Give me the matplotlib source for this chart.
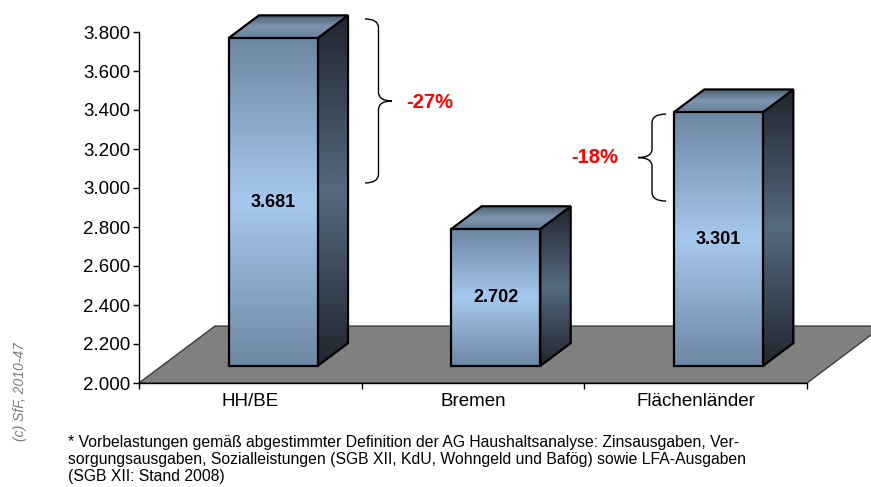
import numpy as np
import matplotlib.pyplot as plt
from matplotlib.patches import Polygon, PathPatch
from matplotlib.path import Path
from matplotlib.colors import LinearSegmentedColormap
from matplotlib.ticker import FuncFormatter

categories = ['HH/BE', 'Bremen', 'Flächenländer']
values = [3681, 2702, 3301]
value_labels = ['3.681', '2.702', '3.301']
changes = ['-27%', '-18%']
footnote = [
    '* Vorbelastungen gemäß abgestimmter Definition der AG Haushaltsanalyse: Zinsausgaben, Ver-',
    'sorgungsausgaben, Sozialleistungen (SGB XII, KdU, Wohngeld und Bafög) sowie LFA-Ausgaben',
    '(SGB XII: Stand 2008)',
]

plt.rcParams['font.family'] = ['Liberation Sans', 'DejaVu Sans']

fig = plt.figure(figsize=(8.71, 4.87), dpi=100)
# axes reaches the top of the figure so the 3D tops are not clipped
ax = fig.add_axes([139 / 871, 104 / 487, 668 / 871, 383 / 487])

# oblique depth offset (data units for full floor depth)
DX, DY = 0.341, 292
YMIN, YMAX = 2000, 3800
YTOP = YMIN + 383 * (YMAX - YMIN) / 351


def proj(x, y, d):
    return (x + d * DX, y + d * DY)


def grad_face(pts, colors, z):
    poly = Polygon(pts, closed=True, facecolor='none', edgecolor='black',
                   lw=1.6, zorder=z + 0.1, clip_on=False, joinstyle='miter')
    ax.add_patch(poly)
    xs = [p[0] for p in pts]
    ys = [p[1] for p in pts]
    cmap = LinearSegmentedColormap.from_list('g', colors)
    grad = np.linspace(0, 1, 256).reshape(-1, 1)
    im = ax.imshow(grad, cmap=cmap, origin='upper', aspect='auto',
                   extent=[min(xs), max(xs), min(ys), max(ys)],
                   zorder=z, interpolation='bilinear')
    im.set_clip_path(poly)


def brace(x_end, x_tip, y_top, y_bot, r=45):
    xm = (x_end + x_tip) / 2
    ym = (y_top + y_bot) / 2
    verts = [(x_end, y_top), (xm, y_top), (xm, y_top - r),
             (xm, ym + r), (xm, ym), (x_tip, ym),
             (xm, ym), (xm, ym - r),
             (xm, y_bot + r), (xm, y_bot), (x_end, y_bot)]
    codes = [Path.MOVETO, Path.CURVE3, Path.CURVE3,
             Path.LINETO, Path.CURVE3, Path.CURVE3,
             Path.CURVE3, Path.CURVE3,
             Path.LINETO, Path.CURVE3, Path.CURVE3]
    ax.add_patch(PathPatch(Path(verts, codes), facecolor='none',
                           edgecolor='black', lw=1.0, clip_on=False, zorder=6))


# floor
n = len(categories)
floor = [proj(0, YMIN, 0), proj(n, YMIN, 0), proj(n, YMIN, 1), proj(0, YMIN, 1)]
ax.add_patch(Polygon(floor, closed=True, facecolor='#808080', edgecolor='#3c3c3c',
                     lw=1.0, zorder=1, clip_on=False))

# 3D bars
w = 0.2
d0, d1 = 0.3, 0.7
front_cols = ['#6d87a3', '#a6c8ee', '#6d87a3']
side_cols = ['#20262e', '#566a80', '#20262e']
top_cols = ['#4c5f73', '#7d95ae', '#687f98']
for i, v in enumerate(values):
    x0, x1 = i + 0.5 - w, i + 0.5 + w
    front = [proj(x0, YMIN, d0), proj(x1, YMIN, d0), proj(x1, v, d0), proj(x0, v, d0)]
    side = [proj(x1, YMIN, d0), proj(x1, YMIN, d1), proj(x1, v, d1), proj(x1, v, d0)]
    top = [proj(x0, v, d0), proj(x1, v, d0), proj(x1, v, d1), proj(x0, v, d1)]
    grad_face(side, side_cols, 3)
    grad_face(top, top_cols, 3.2)
    grad_face(front, front_cols, 3.4)
    cx, cy = proj(i + 0.5, (YMIN + v) / 2, d0)
    ax.text(cx, cy, value_labels[i], ha='center', va='center', fontsize=13,
            fontweight='bold', zorder=7)

# braces with percentage changes
brace(1.015, 1.136, 3867, 3026)
ax.text(1.307, 3441, changes[0], color='#ff0000', fontsize=14.5, fontweight='bold',
        ha='center', va='center')
brace(2.367, 2.241, 3379, 2933)
ax.text(2.048, 3154, changes[1], color='#ff0000', fontsize=14.5, fontweight='bold',
        ha='center', va='center')

ax.set_xlim(0, n)
ax.set_ylim(YMIN, YTOP)
ax.set_yticks(np.arange(YMIN, YMAX + 1, 200))
ax.yaxis.set_major_formatter(FuncFormatter(lambda v, p: f'{v:,.0f}'.replace(',', '.')))
ax.set_xticks(range(n + 1))
ax.set_xticklabels([])
ax.set_xticks([i + 0.5 for i in range(n)], minor=True)
ax.set_xticklabels(categories, minor=True)
ax.tick_params(axis='y', direction='out', length=4.5, width=1, labelsize=13.5, pad=2)
ax.tick_params(axis='x', which='major', direction='out', length=4.5, width=1)
ax.tick_params(axis='x', which='minor', length=0, labelsize=13.5, pad=7)
for s in ['top', 'right']:
    ax.spines[s].set_visible(False)
ax.spines['left'].set_bounds(YMIN, YMAX)
for s in ['left', 'bottom']:
    ax.spines[s].set_linewidth(1.0)
    ax.spines[s].set_zorder(2.5)
ax.patch.set_alpha(0)

# footnote and source
for k, line in enumerate(footnote):
    fig.text(68 / 871, 1 - (442 + 17.3 * k) / 487, line, fontsize=11.3,
             ha='left', va='center')
fig.text(20 / 871, 1 - 392 / 487, '(c) SfF, 2010-47', rotation=90, style='italic',
         color='#7a7a7a', fontsize=10, ha='center', va='center')

fig.savefig('out.png', dpi=100)
plt.close(fig)
